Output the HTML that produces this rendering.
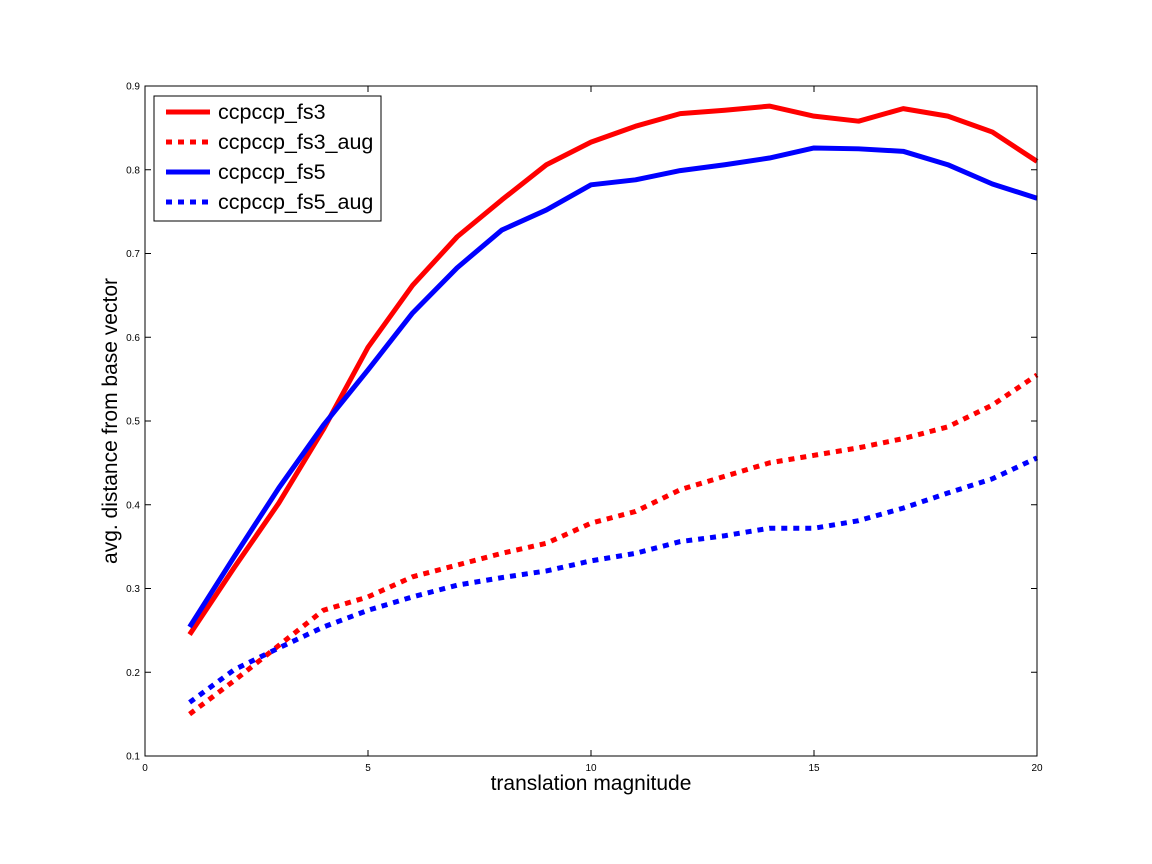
<!DOCTYPE html>
<html><head><meta charset="utf-8"><style>
body{margin:0;background:#fff;}
svg{display:block;font-family:"Liberation Sans","DejaVu Sans",sans-serif;}
</style></head><body>
<svg id="chart" width="1152" height="864">
<rect width="1152" height="864" fill="#fff"/>
<g id="marks"></g>
<g id="axes"></g>
</svg>
<script>
const xValues=[1,2,3,4,5,6,7,8,9,10,11,12,13,14,15,16,17,18,19,20];
const fs3=[0.245,0.325,0.402,0.49,0.588,0.662,0.72,0.764,0.806,0.833,0.852,0.867,0.871,0.876,0.864,0.858,0.873,0.864,0.845,0.81];
const fs3Aug=[0.15,0.19,0.232,0.274,0.29,0.314,0.328,0.342,0.354,0.378,0.392,0.418,0.434,0.45,0.459,0.468,0.479,0.493,0.519,0.555];
const fs5=[0.254,0.338,0.42,0.495,0.561,0.629,0.683,0.728,0.752,0.782,0.788,0.799,0.806,0.814,0.826,0.825,0.822,0.806,0.783,0.766];
const fs5Aug=[0.164,0.203,0.229,0.254,0.274,0.29,0.304,0.313,0.321,0.333,0.342,0.356,0.363,0.372,0.372,0.381,0.396,0.414,0.431,0.456];
const xTicks=[0,5,10,15,20];
const yTicks=[0.1,0.2,0.3,0.4,0.5,0.6,0.7,0.8,0.9];
const seriesNames=["ccpccp_fs3","ccpccp_fs3_aug","ccpccp_fs5","ccpccp_fs5_aug"];

const L=145,R=1037,T=86,B=756;
const xs=v=>L+(v-0)/20*(R-L);
const ys=v=>B-(v-0.1)/0.8*(B-T);
const NS="http://www.w3.org/2000/svg";
function mk(tag,attrs,parent){const e=document.createElementNS(NS,tag);for(const k in attrs)e.setAttribute(k,attrs[k]);parent.appendChild(e);return e;}
const marks=document.getElementById('marks'),axes=document.getElementById('axes');
const series=[[fs3,'#ff0000',''],[fs3Aug,'#ff0000','6,6'],[fs5,'#0000ff',''],[fs5Aug,'#0000ff','6,6']];
series.forEach((s,i)=>{
  const p=mk('polyline',{points:s[0].map((v,j)=>xs(xValues[j])+','+ys(v)).join(' '),fill:'none',stroke:s[1],'stroke-width':5,'stroke-dasharray':s[2]||'none','stroke-linejoin':'round'},marks);
  
  
});
const frame=mk('rect',{x:L,y:T,width:R-L,height:B-T,fill:'none',stroke:'#000','stroke-width':1},axes);


xTicks.forEach(t=>{
  const x=xs(t);
  mk('line',{x1:x,y1:B,x2:x,y2:B-6,stroke:'#000'},axes);
  mk('line',{x1:x,y1:T,x2:x,y2:T+6,stroke:'#000'},axes);
  const tx=mk('text',{x:x,y:B+15,'font-size':10,'text-anchor':'middle'},axes);
  tx.textContent=t;
  
  
});
yTicks.forEach(t=>{
  const y=ys(t);
  mk('line',{x1:L,y1:y,x2:L+6,y2:y,stroke:'#000'},axes);
  mk('line',{x1:R,y1:y,x2:R-6,y2:y,stroke:'#000'},axes);
  const tx=mk('text',{x:L-5,y:y+3.5,'font-size':10,'text-anchor':'end'},axes);
  tx.textContent=t.toFixed(1);
  
  
});
const xl=mk('text',{x:(L+R)/2,y:790,'font-size':21,'text-anchor':'middle'},axes);
xl.textContent='translation magnitude';


const yl=mk('text',{x:0,y:0,'font-size':21,'text-anchor':'middle',transform:'translate(117,'+((T+B)/2)+') rotate(-90)'},axes);
yl.textContent='avg. distance from base vector';


const lg=mk('g',{},axes);


mk('rect',{x:154,y:96,width:227,height:125,fill:'#fff',stroke:'#000','stroke-width':1},lg);
series.forEach((s,i)=>{
  const y=112+i*30;
  const ln=mk('line',{x1:166,y1:y,x2:210,y2:y,stroke:s[1],'stroke-width':5,'stroke-dasharray':s[2]||'none'},lg);
  
  
  const tx=mk('text',{x:218,y:y+7,'font-size':21.5},lg);
  tx.textContent=seriesNames[i];
  
  
});
</script>
</body></html>
